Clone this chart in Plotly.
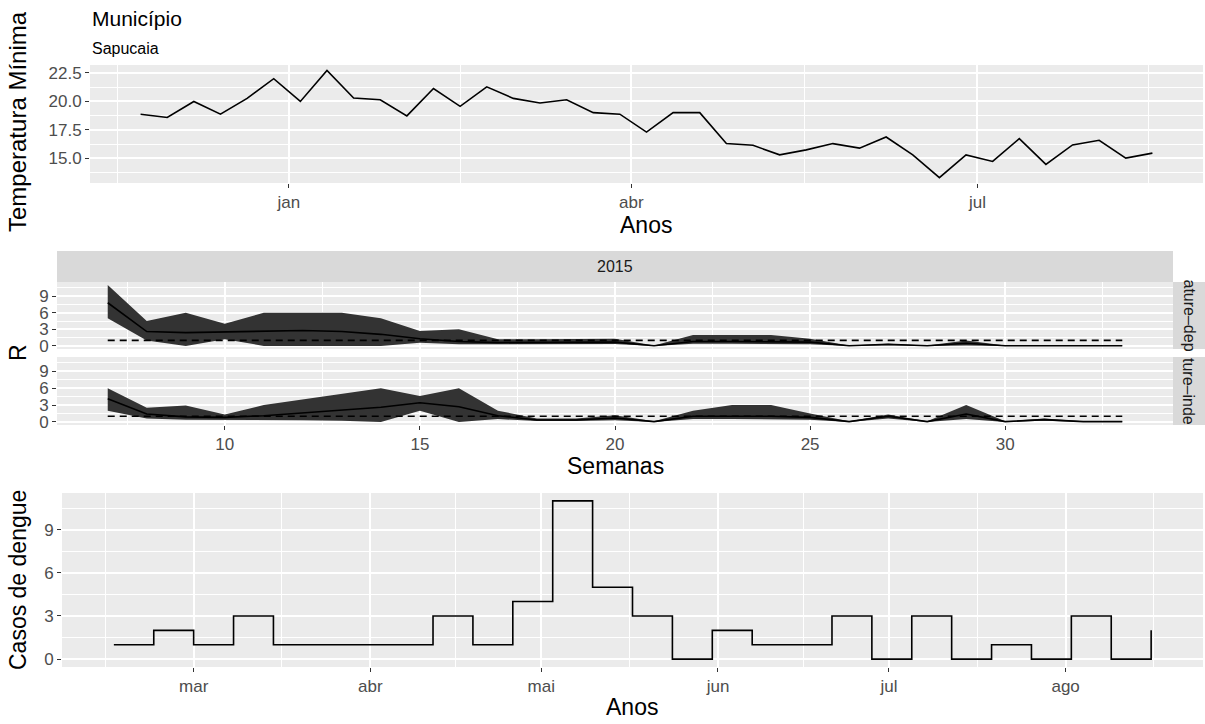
import plotly.graph_objects as go
import pandas as pd

W, H = 1205, 724

# ---------------- data ----------------
temp_dates = ["2014-11-23", "2014-11-30", "2014-12-07", "2014-12-14", "2014-12-21", "2014-12-28",
              "2015-01-04", "2015-01-11", "2015-01-18", "2015-01-25", "2015-02-01", "2015-02-08",
              "2015-02-15", "2015-02-22", "2015-03-01", "2015-03-08", "2015-03-15", "2015-03-22",
              "2015-03-29", "2015-04-05", "2015-04-12", "2015-04-19", "2015-04-26", "2015-05-03",
              "2015-05-10", "2015-05-17", "2015-05-24", "2015-05-31", "2015-06-07", "2015-06-14",
              "2015-06-21", "2015-06-28", "2015-07-05", "2015-07-12", "2015-07-19", "2015-07-26",
              "2015-08-02", "2015-08-09", "2015-08-16"]
temp_min = [18.88, 18.59, 20.0, 18.88, 20.27, 22.0, 20.0, 22.73, 20.3, 20.15, 18.73, 21.14,
            19.57, 21.28, 20.27, 19.86, 20.15, 19.02, 18.88, 17.31, 19.02, 19.02, 16.3, 16.15,
            15.31, 15.75, 16.3, 15.9, 16.88, 15.31, 13.31, 15.31, 14.73, 16.73, 14.47, 16.18,
            16.59, 15.02, 15.46]

weeks = [7, 8, 9, 10, 11, 12, 13, 14, 15, 16, 17, 18, 19, 20, 21, 22, 23, 24, 25, 26, 27, 28,
         29, 30, 31, 32, 33]
r_dep_median = [7.8, 2.6, 2.4, 2.5, 2.7, 2.8, 2.6, 2.1, 1.3, 0.8, 0.6, 0.6, 0.6, 0.7, 0.05, 0.8,
                0.8, 0.8, 0.7, 0.05, 0.3, 0.05, 0.5, 0.05, 0.05, 0.05, 0.05]
r_dep_upper = [11.0, 4.5, 6.0, 4.0, 6.0, 6.0, 6.0, 5.0, 2.7, 3.0, 1.2, 1.2, 1.2, 1.3, 0.1, 2.0,
               2.0, 2.0, 1.3, 0.1, 0.4, 0.1, 1.0, 0.1, 0.1, 0.1, 0.1]
r_dep_lower = [5.0, 1.0, 0.0, 1.2, 0.0, 0.0, 0.0, 0.0, 0.6, 0.3, 0.3, 0.3, 0.3, 0.35, 0.0, 0.4,
               0.4, 0.4, 0.3, 0.0, 0.1, 0.0, 0.1, 0.0, 0.0, 0.0, 0.0]
r_ind_median = [4.1, 1.4, 0.9, 0.8, 1.1, 1.6, 2.0, 2.6, 3.4, 2.7, 1.1, 0.35, 0.35, 0.7, 0.05,
                1.0, 1.0, 1.0, 0.8, 0.05, 1.0, 0.05, 1.4, 0.05, 0.4, 0.05, 0.05]
r_ind_upper = [6.0, 2.5, 2.9, 1.3, 3.0, 4.0, 5.0, 6.0, 4.6, 6.0, 2.0, 0.6, 0.6, 1.2, 0.1, 2.0,
               3.0, 3.0, 1.5, 0.1, 1.3, 0.1, 3.0, 0.1, 0.6, 0.1, 0.1]
r_ind_lower = [2.0, 0.6, 0.4, 0.4, 0.4, 0.3, 0.2, 0.0, 2.0, 0.0, 0.5, 0.15, 0.15, 0.3, 0.0, 0.5,
               0.5, 0.5, 0.4, 0.0, 0.6, 0.0, 0.5, 0.0, 0.2, 0.0, 0.0]
r_threshold = 1

dengue_dates = ["2015-02-15", "2015-02-22", "2015-03-01", "2015-03-08", "2015-03-15", "2015-03-22",
                "2015-03-29", "2015-04-05", "2015-04-12", "2015-04-19", "2015-04-26", "2015-05-03",
                "2015-05-10", "2015-05-17", "2015-05-24", "2015-05-31", "2015-06-07", "2015-06-14",
                "2015-06-21", "2015-06-28", "2015-07-05", "2015-07-12", "2015-07-19", "2015-07-26",
                "2015-08-02", "2015-08-09", "2015-08-16"]
dengue_cases = [1, 2, 1, 3, 1, 1, 1, 1, 3, 1, 4, 11, 5, 3, 0, 2, 1, 1, 3, 0, 3, 0, 1, 0, 3, 0, 2]

top_breaks = ["2015-01-01", "2015-04-01", "2015-07-01"]
top_labels = ["jan", "abr", "jul"]
bottom_breaks = ["2015-03-01", "2015-04-01", "2015-05-01", "2015-06-01", "2015-07-01", "2015-08-01"]
bottom_labels = ["mar", "abr", "mai", "jun", "jul", "ago"]
week_breaks = [10, 15, 20, 25, 30]
r_breaks = [0, 3, 6, 9]
temp_breaks = [15, 17.5, 20, 22.5]
temp_labels = ["15.0", "17.5", "20.0", "22.5"]
cases_breaks = [0, 3, 6, 9]

title_text = "Município"
subtitle_text = "Sapucaia"
strip_top = "2015"
strip_right = ["ature–dep", "ture–inde"]


# ---------------- helpers ----------------
def expand(lo, hi, f=0.05):
    d = hi - lo
    return lo - d * f, hi + d * f


def minor_breaks(b, lo, hi):
    b = list(b)
    bd = b[1] - b[0]
    if lo < b[0]:
        b = [b[0] - bd] + b
    if hi > b[-1]:
        b = b + [b[-1] + bd]
    return [b[i] + (b[i + 1] - b[i]) / 2 for i in range(len(b) - 1)]


def iso(t):
    return pd.Timestamp(t).strftime("%Y-%m-%d %H:%M:%S")


def xd(a, b):
    return [a / W, b / W]


def yd(top, bottom):
    return [1 - bottom / H, 1 - top / H]


# ranges (ggplot-like 5% expansion)
td = pd.to_datetime(temp_dates)
top_xr = expand(td.min(), td.max())
top_yr = expand(min(temp_min), max(temp_min))
mid_xr = expand(min(weeks), max(weeks))
r_all = r_dep_lower + r_dep_upper + r_ind_lower + r_ind_upper
mid_yr = expand(min(r_all), max(r_all))
dd = pd.to_datetime(dengue_dates)
bot_xr = expand(dd.min(), dd.max())
bot_yr = expand(min(dengue_cases), max(dengue_cases))

top_minor = minor_breaks([pd.Timestamp(b) for b in top_breaks], top_xr[0], top_xr[1])
bot_minor = minor_breaks([pd.Timestamp(b) for b in bottom_breaks], bot_xr[0], bot_xr[1])

# ---------------- figure ----------------
fig = go.Figure()
LW = 1.6
fig.add_trace(go.Scatter(x=temp_dates, y=temp_min, mode="lines",
                         line=dict(color="black", width=LW), xaxis="x", yaxis="y",
                         showlegend=False))

for lo, up, med, xa, ya in [(r_dep_lower, r_dep_upper, r_dep_median, "x2", "y2"),
                            (r_ind_lower, r_ind_upper, r_ind_median, "x3", "y3")]:
    fig.add_trace(go.Scatter(x=weeks, y=lo, mode="lines", line=dict(width=0, color="#333333"),
                             xaxis=xa, yaxis=ya, showlegend=False, hoverinfo="skip"))
    fig.add_trace(go.Scatter(x=weeks, y=up, mode="lines", line=dict(width=0, color="#333333"),
                             fill="tonexty", fillcolor="#333333",
                             xaxis=xa, yaxis=ya, showlegend=False, hoverinfo="skip"))
    fig.add_trace(go.Scatter(x=weeks, y=med, mode="lines", line=dict(color="black", width=LW),
                             xaxis=xa, yaxis=ya, showlegend=False))
    fig.add_trace(go.Scatter(x=[weeks[0], weeks[-1]], y=[r_threshold, r_threshold], mode="lines",
                             line=dict(color="black", width=LW, dash="7px,5px"),
                             xaxis=xa, yaxis=ya, showlegend=False))

fig.add_trace(go.Scatter(x=dengue_dates, y=dengue_cases, mode="lines", line_shape="hv",
                         line=dict(color="black", width=LW), xaxis="x4", yaxis="y4",
                         showlegend=False))

FONT = "Liberation Sans, Arial, sans-serif"
TICKFONT = dict(family=FONT, size=17, color="#4d4d4d")
common = dict(showline=False, zeroline=False, gridcolor="white", gridwidth=2,
              ticks="outside", ticklen=4, tickwidth=1, tickcolor="#333333",
              tickfont=TICKFONT, fixedrange=True, automargin=False)


def minor(vals):
    return dict(tickmode="array", tickvals=vals, showgrid=True, gridcolor="white",
                gridwidth=1, ticks="")


fig.update_layout(
    template="none",
    width=W, height=H, autosize=False,
    margin=dict(l=0, r=0, t=0, b=0, pad=0),
    paper_bgcolor="white", plot_bgcolor="#ebebeb",
    font=dict(family=FONT, color="black"),
    showlegend=False,
    xaxis=dict(domain=xd(90, 1203), anchor="y", type="date",
               range=[iso(top_xr[0]), iso(top_xr[1])],
               tickmode="array", tickvals=top_breaks, ticktext=top_labels,
               minor=minor([iso(m) for m in top_minor]), **common),
    yaxis=dict(domain=yd(65, 183), anchor="x", range=list(top_yr),
               tickmode="array", tickvals=temp_breaks, ticktext=temp_labels,
               minor=minor(minor_breaks(temp_breaks, *top_yr)), **common),
    xaxis2=dict(domain=xd(57, 1173), anchor="y2", range=list(mid_xr),
                tickmode="array", tickvals=week_breaks, showticklabels=False,
                minor=minor(minor_breaks(week_breaks, *mid_xr)),
                **{**common, "ticks": ""}),
    yaxis2=dict(domain=yd(282, 349), anchor="x2", range=list(mid_yr),
                tickmode="array", tickvals=r_breaks,
                minor=minor(minor_breaks(r_breaks, *mid_yr)), **common),
    xaxis3=dict(domain=xd(57, 1173), anchor="y3", range=list(mid_xr),
                tickmode="array", tickvals=week_breaks,
                minor=minor(minor_breaks(week_breaks, *mid_xr)), **common),
    yaxis3=dict(domain=yd(357, 425), anchor="x3", range=list(mid_yr),
                tickmode="array", tickvals=r_breaks,
                minor=minor(minor_breaks(r_breaks, *mid_yr)), **common),
    xaxis4=dict(domain=xd(62, 1203), anchor="y4", type="date",
                range=[iso(bot_xr[0]), iso(bot_xr[1])],
                tickmode="array", tickvals=bottom_breaks, ticktext=bottom_labels,
                minor=minor([iso(m) for m in bot_minor]), **common),
    yaxis4=dict(domain=yd(493, 667), anchor="x4", range=list(bot_yr),
                tickmode="array", tickvals=cases_breaks,
                minor=minor(minor_breaks(cases_breaks, *bot_yr)), **common),
)

# strips
shapes = [
    dict(type="rect", xref="paper", yref="paper", x0=57 / W, x1=1173 / W,
         y0=1 - 282 / H, y1=1 - 251 / H, fillcolor="#d9d9d9", line=dict(width=0)),
    dict(type="rect", xref="paper", yref="paper", x0=1173 / W, x1=1205 / W,
         y0=1 - 349 / H, y1=1 - 282 / H, fillcolor="#d9d9d9", line=dict(width=0)),
    dict(type="rect", xref="paper", yref="paper", x0=1173 / W, x1=1205 / W,
         y0=1 - 425 / H, y1=1 - 357 / H, fillcolor="#d9d9d9", line=dict(width=0)),
]
fig.update_layout(shapes=shapes)


def ann(text, x, y, size, color="black", angle=0, xanchor="center"):
    return dict(text=text, x=x / W, y=1 - y / H, xref="paper", yref="paper",
                showarrow=False, textangle=angle, xanchor=xanchor, yanchor="middle",
                font=dict(family=FONT, size=size, color=color))


annotations = [
    ann(title_text, 90, 19, 21, xanchor="left"),
    ann(subtitle_text, 90, 48, 16, xanchor="left"),
    ann("Temperatura Mínima", 18, 122, 24, angle=-90),
    ann("Anos", 646, 225, 23),
    ann(strip_top, 615, 266.5, 16, color="#1a1a1a"),
    ann(strip_right[0], 1189, 315.5, 16, color="#1a1a1a", angle=90),
    ann(strip_right[1], 1189, 391, 16, color="#1a1a1a", angle=90),
    ann("R", 18, 353, 23, angle=-90),
    ann("Semanas", 615, 466, 23),
    ann("Casos de dengue", 18, 580, 23, angle=-90),
    ann("Anos", 632, 707, 23),
]
fig.update_layout(annotations=annotations)

fig.write_html(
    "out.html",
    config={"displayModeBar": False},
    post_script="document.body.style.margin='0';document.body.style.padding='0';document.body.style.overflow='hidden';",
)
